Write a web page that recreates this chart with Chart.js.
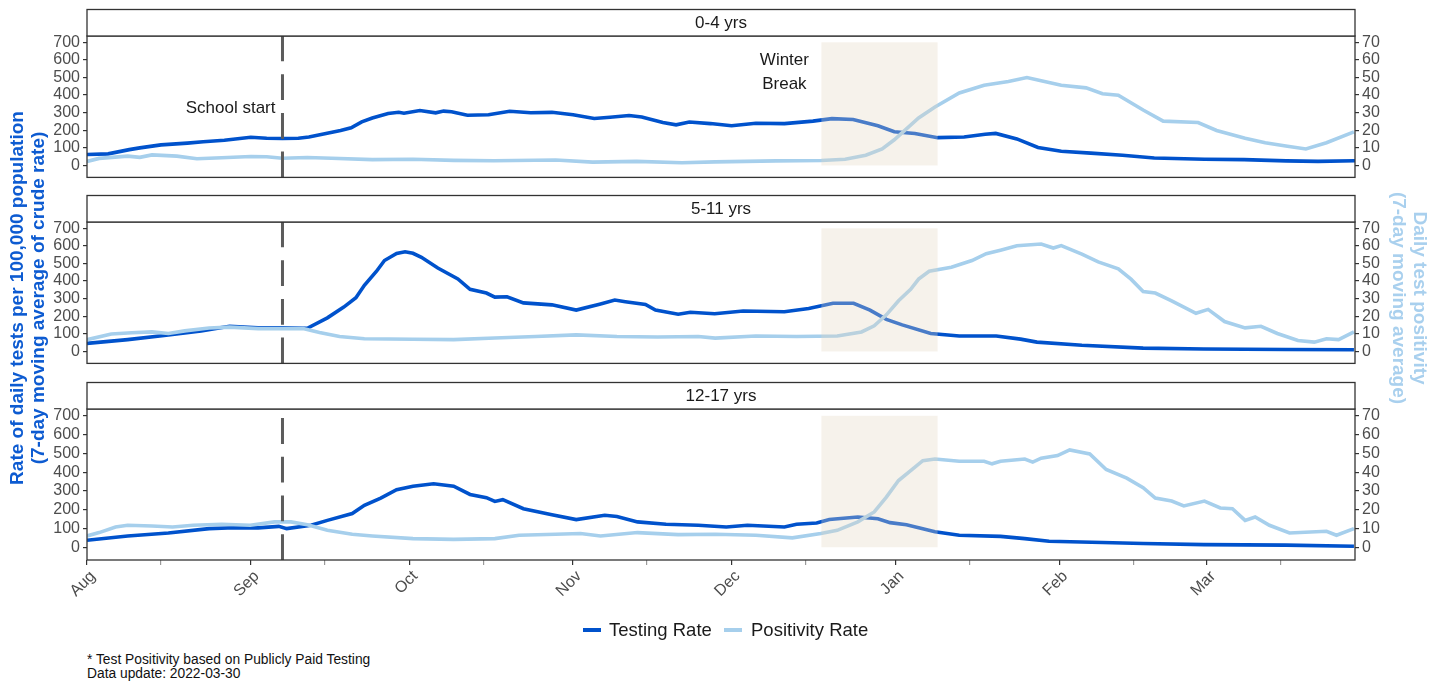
<!DOCTYPE html>
<html>
<head>
<meta charset="utf-8">
<script src="https://cdn.jsdelivr.net/npm/chart.js@4.4.1/dist/chart.umd.min.js"></script>
<style>
body{margin:0;background:#fff;font-family:"Liberation Sans",Arial,sans-serif;}
#wrap{position:relative;width:1438px;height:681px;overflow:hidden;background:#fff;}
canvas{position:absolute;left:0;}
.ytitle{position:absolute;text-align:center;font-weight:bold;font-size:19px;line-height:21px;}
.leg{position:absolute;font-size:18.5px;color:#1a1a1a;top:619px;}
.sw{position:absolute;height:4px;width:18px;top:628px;}
.foot{position:absolute;left:87px;font-size:13.8px;color:#111;}
</style>
</head>
<body>
<div id="wrap">
  <canvas id="p0" width="1438" height="190" style="top:0px"></canvas>
  <canvas id="p1" width="1438" height="189" style="top:187px"></canvas>
  <canvas id="p2" width="1438" height="247" style="top:373px"></canvas>

  <div class="ytitle" style="left:-183px;top:277px;width:420px;height:42px;transform:rotate(-90deg);color:#0d5bd1">Rate of daily tests per 100,000 population<br>(7-day moving average of crude rate)</div>
  <div class="ytitle" style="left:1200px;top:277px;width:420px;height:42px;transform:rotate(90deg);color:#a9d0ee">Daily test positivity<br>(7-day moving average)</div>

  <div class="sw" style="left:583px;background:#0052cc"></div>
  <div class="leg" style="left:609px">Testing Rate</div>
  <div class="sw" style="left:724px;background:#a6cfec"></div>
  <div class="leg" style="left:751px">Positivity Rate</div>

  <div class="foot" style="top:652px">* Test Positivity based on Publicly Paid Testing</div>
  <div class="foot" style="top:666px">Data update: 2022-03-30</div>
</div>
<script>
// x = days since 1 Aug 2021
const panelNames = ["0-4 yrs", "5-11 yrs", "12-17 yrs"]
const monthDays = [0, 31, 61, 92, 122, 153, 184, 212]
const monthLabels = ["Aug", "Sep", "Oct", "Nov", "Dec", "Jan", "Feb", "Mar"]
const midDays = [14, 45, 75, 106, 136, 167, 198, 226]
const rateTicks = [0, 100, 200, 300, 400, 500, 600, 700]
const posTicks = [0, 10, 20, 30, 40, 50, 60, 70]
const schoolStart = 37
const breakStart = 139
const breakEnd = 161

// 0-4 yrs
const daysRate04 = [0,4,8,10,14,19,22,26,31,34,37,40,42,45,48,50,52,54,57,59,60,63,66,67.5,69,72,76,80,84,88,92,96,99,102.6,105,109,111.5,114,118,122,126.6,132,137.4,141,145,149.7,152.8,156.7,161,166,170,172,176,180,184.4,190,196,202,211.5,219,227,233,240]
const rate04 = [62,66,90,100,117,127,135,143,160,155,153,155,162,180,199,214,248,270,295,302,297,312,299,309,305,285,288,308,300,302,288,267,274,284,276,244,231,247,238,226,240,238,252,266,261,226,192,182,158,162,177,182,151,102,81,70,58,42,35,33,26,23,27]
const daysPos04 = [0,2.3,7.7,10,12.3,17,20.8,25.5,31,34,37,41.7,46.3,54,61.7,69.4,77,88.7,95.7,104,112.6,118.9,130.4,139,143.5,147.4,150.5,152.8,155.1,157.4,160.5,165.1,169.8,174.4,177.9,180.6,184.4,189.1,192.2,195.2,199.9,203.7,210.3,213.8,219.2,223,226.9,230.7,234.6,239.8]
const pos04 = [2.3,4.0,5.3,4.6,6.0,5.3,3.8,4.4,5.1,4.9,4.1,4.5,4.1,3.3,3.5,2.9,2.7,3.1,1.9,2.3,1.5,2.0,2.6,2.8,3.5,5.8,9.4,14.6,20.8,27.0,33.2,41.2,45.6,47.7,50.0,48.2,45.6,44.1,40.8,39.9,31.5,25.2,24.4,19.9,15.5,12.9,11.1,9.4,12.9,19.1]

// 5-11 yrs
const daysRate511 = [0,7.7,15.4,21.6,27,32.4,37,41.7,45.5,48.6,50.9,52.5,54.8,56.3,58.6,60.2,61.7,63.3,66.4,70.2,72.5,75.6,77.2,79.5,82.6,88,92.6,97.2,99.9,101.9,105.7,107.6,111.9,114.2,118.8,124.2,132,136.6,141.2,145.1,148.2,151.3,154.3,159.7,165.1,172.1,176.7,179.8,188.3,199.9,211.4,226.9,239.8]
const rate511 = [46,67,93,117,143,135,134,132,191,252,305,376,456,517,557,567,558,535,474,412,353,332,309,311,276,265,235,270,292,283,267,235,212,223,214,230,226,244,274,274,235,182,151,102,88,88,70,53,35,19,14,11,10]
const daysPos511 = [0,4.6,8.5,12.3,15.4,18.5,23.1,27,32.4,37,40.9,44,47.8,52.5,61.7,69.4,77.2,84.9,92.6,100.3,108,115.7,118.9,126.6,134.3,142,146.6,149,151.3,153.6,155.9,157.4,159.4,163.6,167.5,170.2,172.9,176,180.6,182.9,184.4,188.3,191.4,195.2,197.6,199.9,202.2,205.3,209.9,212.2,215.3,219.2,222.2,225.3,229.2,232.3,234.6,236.9,239.8]
const pos511 = [6.7,9.9,10.6,11.1,10.2,11.7,13.3,13.8,13.0,13.0,13.0,10.8,8.5,7.2,6.9,6.7,7.6,8.5,9.4,8.5,8.2,8.5,7.6,8.8,8.5,8.8,11.1,14.6,20.8,28.8,35.3,41.1,45.6,47.9,51.7,55.6,57.6,60.1,61.1,58.8,60.2,55.3,50.9,47.0,41.1,34.1,33.2,28.8,21.7,23.9,17.0,13.4,14.3,10.2,6.2,5.3,7.2,6.7,11.1]

// 12-17 yrs
const daysRate1217 = [0,7.7,15.4,23.1,27.8,32.4,36.3,37.8,42.4,45.5,50.2,52.5,55.6,58.6,61.7,65.6,69.4,72.5,75.6,77.2,78.7,82.6,88,92.6,98,100.3,104.2,109.6,115.7,121,125,132,134.3,138.1,140.5,145.9,149.7,152,155.1,160.5,165.1,172.9,177.5,182.1,192.2,199.9,211.4,226.9,239.8]
const rate1217 = [37,60,76,99,104,103,111,99,117,143,179,223,262,306,325,338,325,281,264,244,253,205,173,147,170,164,135,122,117,108,117,108,122,129,148,161,152,131,120,82,64,58,46,32,25,20,14,11,5]
const daysPos1217 = [0,2.3,5.4,7.7,12.3,16.2,20.1,25.5,30.9,35.5,38.6,41.7,45.5,50.2,54,61.7,69.4,77.2,81.8,88.7,93.4,97.2,104.2,111.9,118.9,126.6,133.5,138.9,142,145.9,149,151.3,153.6,155.9,158.2,160.5,165.1,169.8,171.3,172.9,177.5,179,180.6,183.7,186,189.8,192.9,196.8,199.9,202.2,205.3,207.6,211.5,214.5,216.8,219.2,221.1,223.8,227.6,234.6,236.5,239.8]
const pos1217 = [6.0,7.8,10.8,11.7,11.3,10.8,11.7,12.2,11.7,13.5,13.5,12.0,9.0,6.9,6.0,4.6,4.2,4.6,6.4,6.9,7.3,6.0,7.8,6.7,6.9,6.4,5.0,7.3,9.0,13.5,18.8,26.7,35.5,40.8,46.1,47.0,45.8,45.8,44.4,45.8,47.0,45.3,47.4,48.8,51.8,49.7,41.4,36.8,31.7,26.2,24.6,22.0,24.6,20.9,20.5,14.3,16.1,11.7,7.6,8.5,6.4,9.9]

const panels = [
  {rateDays: daysRate04, rate: rate04, posDays: daysPos04, pos: pos04},
  {rateDays: daysRate511, rate: rate511, posDays: daysPos511, pos: pos511},
  {rateDays: daysRate1217, rate: rate1217, posDays: daysPos1217, pos: pos1217}
]

const FONT = '"Liberation Sans", Arial, sans-serif'
const toXY = (xs, ys) => xs.map((x, i) => ({x: x, y: ys[i]}))
const setTicks = (vals) => (scale) => { scale.ticks = vals.map(v => ({value: v})) }

const panelDeco = {
  id: 'panelDeco',
  afterDatasetsDraw(chart, args, opts) {
    const ctx = chart.ctx
    const a = chart.chartArea
    const x = chart.scales.x, y = chart.scales.y
    ctx.save()
    // winter break
    const bx0 = x.getPixelForValue(breakStart), bx1 = x.getPixelForValue(breakEnd)
    const by0 = y.getPixelForValue(700), by1 = y.getPixelForValue(0)
    ctx.fillStyle = 'rgba(228,214,192,0.32)'
    ctx.fillRect(bx0, by0, bx1 - bx0, by1 - by0)
    // school start
    const sx = x.getPixelForValue(schoolStart)
    ctx.strokeStyle = '#5c5c5c'
    ctx.lineWidth = 3
    ctx.setLineDash([25.8, 12.9])
    ctx.beginPath()
    ctx.moveTo(sx, a.bottom)
    ctx.lineTo(sx, a.top)
    ctx.stroke()
    ctx.setLineDash([])
    // panel border + strip
    ctx.strokeStyle = '#333'
    ctx.lineWidth = 1.3
    ctx.strokeRect(a.left, a.top, a.right - a.left, a.bottom - a.top)
    ctx.fillStyle = '#fff'
    ctx.fillRect(a.left, a.top - 26.5, a.right - a.left, 26.5)
    ctx.strokeRect(a.left, a.top - 26.5, a.right - a.left, 26.5)
    ctx.fillStyle = '#1a1a1a'
    ctx.font = '17px ' + FONT
    ctx.textAlign = 'center'
    ctx.textBaseline = 'middle'
    ctx.fillText(opts.name, (a.left + a.right) / 2, a.top - 12.5)
    if (opts.notes) {
      ctx.font = '17px ' + FONT
      ctx.textAlign = 'right'
      ctx.fillText('School start', sx - 7, y.getPixelForValue(325))
      ctx.textAlign = 'center'
      const wx = x.getPixelForValue(132)
      ctx.fillText('Winter', wx, y.getPixelForValue(595))
      ctx.fillText('Break', wx, y.getPixelForValue(460))
    }
    ctx.restore()
  }
}
Chart.register(panelDeco)

const crearPanel = (idx, padTop, padBottom, showX) => {
  const p = panels[idx]
  const ctx = document.getElementById('p' + idx).getContext('2d')
  const xScale = {
    type: 'linear', min: 0, max: 240, display: showX,
    afterBuildTicks: setTicks(monthDays.concat(midDays).sort((a, b) => a - b)),
    border: {display: false},
    grid: {drawOnChartArea: false, tickLength: 5, lineWidth: 1.2,
           color: (c) => monthDays.includes(c.tick.value) ? '#333' : '#9a9a9a'},
    ticks: {autoSkip: false, minRotation: 45, maxRotation: 45, padding: 2, labelOffset: 6,
            color: '#4d4d4d', font: {family: FONT, size: 16},
            callback: (v) => { const k = monthDays.indexOf(v); return k >= 0 ? monthLabels[k] : '' }}
  }
  if (showX) xScale.afterFit = (s) => { s.height = 60 }
  return new Chart(ctx, {
    type: 'line',
    data: {
      datasets: [
        {label: 'Testing Rate', data: toXY(p.rateDays, p.rate), yAxisID: 'y',
         borderColor: '#0052cc', borderWidth: 3.6, pointRadius: 0, tension: 0, order: 2},
        {label: 'Positivity Rate', data: toXY(p.posDays, p.pos), yAxisID: 'y2',
         borderColor: '#a6cfec', borderWidth: 3.6, pointRadius: 0, tension: 0, order: 1}
      ]
    },
    options: {
      responsive: false,
      animation: false,
      layout: {padding: {top: padTop, bottom: padBottom, left: 0, right: 0}},
      plugins: {
        legend: {display: false},
        tooltip: {enabled: false},
        panelDeco: {name: panelNames[idx], notes: idx === 0}
      },
      scales: {
        x: xScale,
        y: {
          position: 'left', min: -68, max: 736,
          afterBuildTicks: setTicks(rateTicks),
          afterFit: (s) => { s.width = 87 },
          border: {display: false},
          grid: {drawOnChartArea: false, tickLength: 4, color: '#333', lineWidth: 1.2},
          ticks: {autoSkip: false, padding: 3, color: '#4d4d4d', font: {family: FONT, size: 16}}
        },
        y2: {
          position: 'right', min: -6.8, max: 73.6,
          afterBuildTicks: setTicks(posTicks),
          afterFit: (s) => { s.width = 83 },
          border: {display: false},
          grid: {drawOnChartArea: false, tickLength: 4, color: '#333', lineWidth: 1.2},
          ticks: {autoSkip: false, padding: 3, color: '#4d4d4d', font: {family: FONT, size: 16}}
        }
      }
    }
  })
}

crearPanel(0, 36, 3, false)
crearPanel(1, 35, 3, false)
crearPanel(2, 36, 0, true)
</script>
</body>
</html>
